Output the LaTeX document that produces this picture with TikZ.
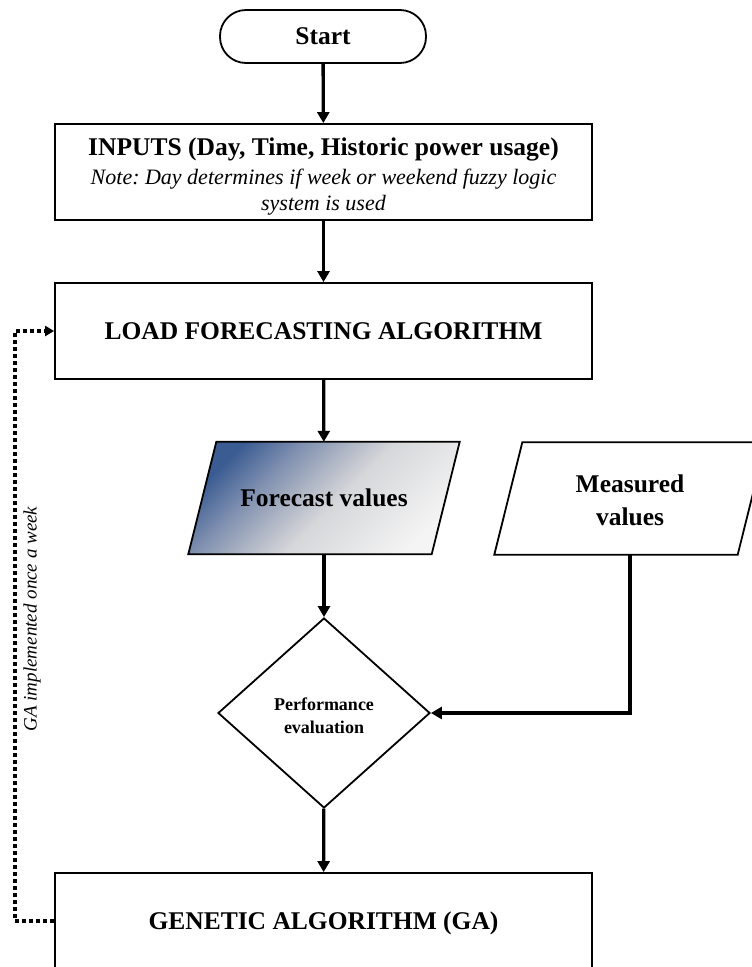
\documentclass[tikz,border=0pt]{standalone}
\usepackage{fontspec}
\setmainfont{Liberation Serif}
\usetikzlibrary{shapes.geometric}
\usetikzlibrary{arrows.meta}
\usetikzlibrary{backgrounds}
\usepackage{xcolor}
\definecolor{fcblue}{RGB}{59,92,146}
\definecolor{fcmid}{RGB}{128,144,176}
\definecolor{fcpale}{RGB}{170,178,194}
\definecolor{fcgray}{RGB}{214,215,218}
\definecolor{fclight}{RGB}{244,244,244}
\pgfdeclarehorizontalshading{fcshade}{100bp}{color(0bp)=(fcblue); color(25bp)=(fcblue); color(36bp)=(fcmid); color(44bp)=(fcpale); color(53bp)=(fcgray); color(75bp)=(fclight); color(100bp)=(fclight)}
\newcommand\bigbf{\fontsize{25.5}{26}\selectfont\bfseries\upshape}
\newcommand\notetxt{\fontsize{22}{26}\selectfont\itshape\frenchspacing}
% parallelogram round a named node
\newcommand\iopath[2]{%
  \path[#2] ([xshift=14pt]#1.north west) -- ([xshift=14pt]#1.north east)
    -- ([xshift=-14pt]#1.south east) -- ([xshift=-14pt]#1.south west) -- cycle;}

\begin{document}
\begin{tikzpicture}[x=1pt, y=-1pt,
    procbox/.style={draw, line width=1.8pt, minimum width=537, minimum height=96, inner sep=0, align=center, font=\bigbf},
    startbox/.style={draw, line width=1.8pt, rounded corners=26pt, minimum width=206, minimum height=53, inner sep=0, font=\bigbf},
    iobox/.style={minimum width=243, minimum height=112, inner sep=0, align=center, font=\bigbf},
    ioline/.style={draw, line width=1.8pt},
    decbox/.style={diamond, draw, line width=1.8pt, minimum width=212, minimum height=190, inner sep=0, align=center, font=\fontsize{18}{23}\selectfont\bfseries},
    conn/.style={line width=3.3pt, -{Triangle[length=11pt, width=12pt]}},
    loopline/.style={line width=3.5pt, dash pattern=on 4pt off 3pt, -{Triangle[length=9pt, width=10pt]}}]
  \useasboundingbox (0,0) rectangle (752,967);
  \clip (0,0) rectangle (752,967);

  % flow boxes
  \node[startbox] (start) at (323,36.5) {Start};
  \node[procbox, font=\notetxt] (inputs) at (323.5,172) {{\bigbf\rule{0pt}{27pt}INPUTS (Day, Time, Historic power usage)}\\[3pt]Note: Day determines if week or weekend fuzzy logic\\system is used};
  \node[procbox] (load) at (323.5,331) {LOAD FORECASTING ALGORITHM};
  \node[iobox] (fcast) at (324,498) {Forecast values};
  \node[iobox] (meas) at (630,498.5) {\rule{0pt}{22pt}Measured\\[7pt]values};
  \node[decbox] (perf) at (324,713) {\rule{0pt}{19pt}Performance\\evaluation};
  \node[procbox] (ga) at (323.5,921) {\rule{0pt}{22pt}GENETIC ALGORITHM (GA)};
  \node[rotate=90, font=\fontsize{19}{22}\selectfont\itshape] (galabel) at (32,619) {GA implemented once a week};

  \begin{scope}[on background layer]
    \fill[white] (0,0) rectangle (752,967);
    \iopath{fcast}{ioline, shade, shading=fcshade, shading angle=-45}
    \iopath{meas}{ioline, fill=white}
  \end{scope}

  % connectors
  \draw[conn] (start) -- (inputs);
  \draw[conn] (inputs) -- (load);
  \draw[conn] (load) -- (fcast);
  \draw[conn] (fcast) -- (perf);
  \draw[conn] (meas.south) |- (perf.east);
  \draw[conn] (perf) -- (ga);
  \draw[loopline] (ga.west) -- ++(-39,0) |- (load.west);
\end{tikzpicture}
\end{document}
